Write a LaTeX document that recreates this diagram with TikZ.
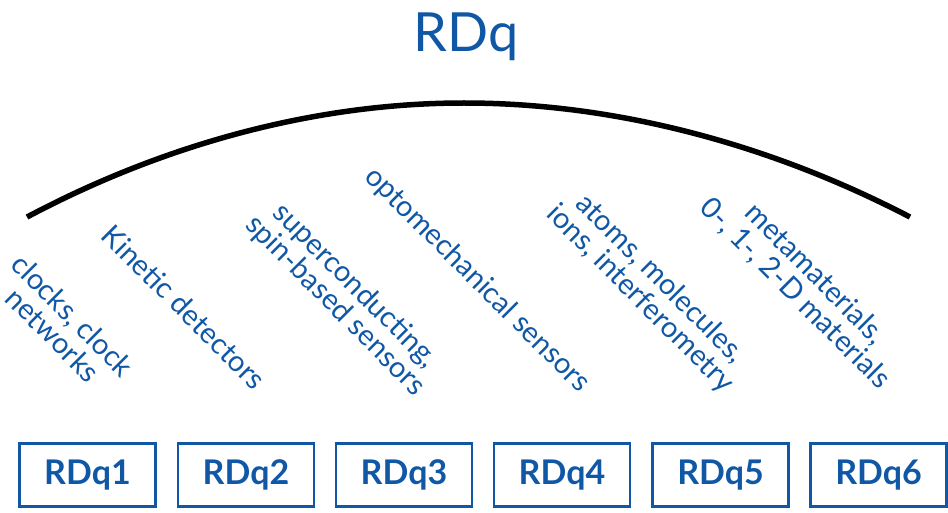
\documentclass[tikz,border=0pt]{standalone}
\usepackage{fontspec}
\setmainfont{Lato}
\definecolor{rdblue}{RGB}{16,88,166}
\begin{document}
\begin{tikzpicture}[x=1pt,y=-1pt,
  lab/.style={text=rdblue, rotate=-45, align=center, inner sep=0pt,
    font=\fontsize{29}{28}\selectfont},
  wpbox/.style={draw=rdblue, line width=2.8pt, minimum width=136pt, minimum height=63pt,
    inner sep=0pt, text=rdblue, font=\fontsize{34}{38}\selectfont\bfseries},
  arcline/.style={line width=5.5pt, black}]
\useasboundingbox (0,0) rectangle (948,513);
\node[text=rdblue, font=\fontsize{54}{58}\selectfont, anchor=base] (title) at (466,52) {RDq};
\coordinate (arcL) at (27,217);
\coordinate (arcTop) at (464,103);
\coordinate (arcR) at (910,217);
\draw[arcline] (arcL) parabola bend (arcTop) (arcR);
\node[lab] (l1) at (63,325) {clocks, clock\\networks};
\node[lab] (l2) at (184,307) {Kinetic detectors};
\node[lab] (l3) at (345,296) {superconducting,\\spin-based sensors};
\node[lab] (l4) at (477,280) {optomechanical sensors};
\node[lab] (l5) at (650,289) {atoms, molecules,\\ions, interferometry};
\node[lab] (l6) at (805,284) {metamaterials,\\0-, 1-, 2-D materials};
\node[wpbox] (b1) at (87.5,475) {RDq1};
\node[wpbox] (b2) at (246,475) {RDq2};
\node[wpbox] (b3) at (404,475) {RDq3};
\node[wpbox] (b4) at (562,475) {RDq4};
\node[wpbox] (b5) at (720.5,475) {RDq5};
\node[wpbox] (b6) at (878.5,475) {RDq6};
\end{tikzpicture}
\end{document}
